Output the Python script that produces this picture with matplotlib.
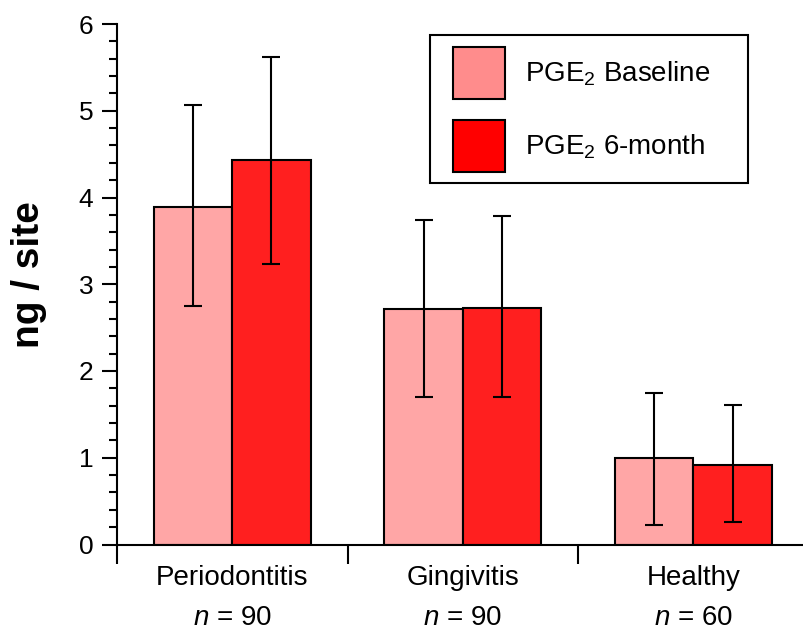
import matplotlib.pyplot as plt
import numpy as np
from matplotlib.patches import Patch, Rectangle
from matplotlib.ticker import MultipleLocator

plt.rcParams['font.family'] = ['Liberation Sans', 'DejaVu Sans']
plt.rcParams['mathtext.fontset'] = 'custom'
plt.rcParams['mathtext.rm'] = 'Liberation Sans'
plt.rcParams['mathtext.it'] = 'Liberation Sans:italic'

groups = ['Periodontitis', 'Gingivitis', 'Healthy']
n_counts = [90, 90, 60]
baseline = [3.89, 2.71, 1.00]
baseline_hi = [5.07, 3.74, 1.75]
baseline_lo = [2.75, 1.70, 0.23]
month6 = [4.43, 2.73, 0.92]
month6_hi = [5.62, 3.79, 1.61]
month6_lo = [3.23, 1.70, 0.26]

fig = plt.figure(figsize=(8.04, 6.33), dpi=100)
ax = fig.add_axes([117/804, 88.5/633, 1 - 117/804, 520.5/633])

x = np.arange(len(groups))
w = 0.34
err_b = [np.array(baseline) - np.array(baseline_lo), np.array(baseline_hi) - np.array(baseline)]
err_m = [np.array(month6) - np.array(month6_lo), np.array(month6_hi) - np.array(month6)]

ax.bar(x - w/2, baseline, w, color='#FFA6A6', edgecolor='black', linewidth=1.5, zorder=2)
ax.bar(x + w/2, month6, w, color='#FF1F1F', edgecolor='black', linewidth=1.5, zorder=2)
ax.errorbar(x - w/2, baseline, yerr=err_b, fmt='none', ecolor='black', elinewidth=1.5,
            capsize=6.5, capthick=1.5, zorder=3)
ax.errorbar(x + w/2, month6, yerr=err_m, fmt='none', ecolor='black', elinewidth=1.5,
            capsize=6.5, capthick=1.5, zorder=3)

ax.set_xlim(-0.5, 2.48)
ax.set_ylim(0, 6)
ax.spines['top'].set_visible(False)
ax.spines['right'].set_visible(False)
for s in ['left', 'bottom']:
    ax.spines[s].set_linewidth(1.5)

ax.yaxis.set_major_locator(MultipleLocator(1))
ax.yaxis.set_minor_locator(MultipleLocator(0.2))
ax.tick_params(axis='y', which='major', direction='out', length=11, width=1.5, labelsize=19, pad=6)
ax.tick_params(axis='y', which='minor', direction='out', length=5.5, width=1.5)

ax.set_xticks([-0.5, 0.5, 1.5])
ax.set_xticklabels([])
ax.tick_params(axis='x', which='major', direction='out', length=14, width=1.5)
for i, g in enumerate(groups):
    ax.text(x[i], -0.467, g, ha='center', va='baseline', fontsize=20, clip_on=False)
    ax.text(x[i], -0.928, '$n$ = %d' % n_counts[i], ha='center', va='baseline', fontsize=20,
            clip_on=False)

ax.set_ylabel('ng / site', fontsize=28, fontweight='bold')
ax.yaxis.set_label_coords(-0.102, 0.518)

# legend without its own frame; frame drawn separately to match the wide padding
handles = [Patch(facecolor='#FF8C8C', edgecolor='black', linewidth=1.5),
           Patch(facecolor='#FF0000', edgecolor='black', linewidth=1.5)]
leg = ax.legend(handles, ['PGE$_2$ Baseline', 'PGE$_2$ 6-month'], loc='upper left',
                bbox_to_anchor=(453/804, 1 - 47/633), bbox_transform=fig.transFigure,
                borderaxespad=0, borderpad=0, fontsize=20, frameon=False,
                handlelength=1.87, handleheight=2.5, labelspacing=0.75, handletextpad=0.72)
fig.add_artist(Rectangle((430/804, 1 - 183/633), 318/804, 148/633, transform=fig.transFigure,
                         fill=False, edgecolor='black', linewidth=1.5))

fig.savefig('out.png', dpi=100)
